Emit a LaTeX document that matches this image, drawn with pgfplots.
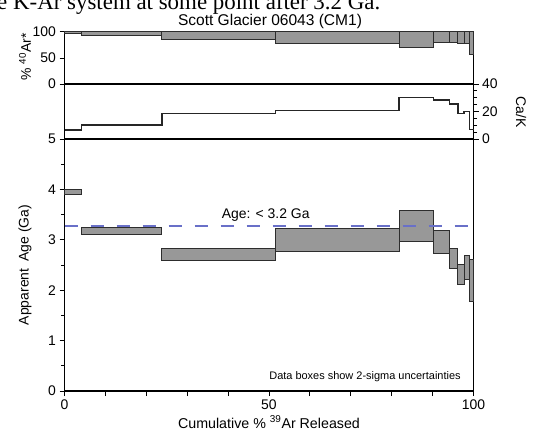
\documentclass[border=0pt]{standalone}
\usepackage{fontspec}
\setmainfont{Liberation Sans}
\newfontfamily\seriffont{Liberation Serif}
\usepackage{pgfplots}
\pgfplotsset{compat=1.18}
\definecolor{boxgray}{RGB}{152,152,152}
\definecolor{boxedge}{RGB}{45,45,45}
\definecolor{agecol}{RGB}{105,112,200}
\begin{document}
\begin{tikzpicture}
\useasboundingbox (0bp,0bp) rectangle (535bp,-434bp);
\clip (0bp,0bp) rectangle (535bp,-434bp);
\pgfplotsset{
  every axis/.append style={
    scale only axis, width=409bp, xmin=0, xmax=100,
    axis line style={line width=1.2bp, black},
    every tick/.style={line width=1bp, black},
    tick align=outside, major tick length=5bp, minor tick length=3.5bp,
    tick label style={font=\fontsize{14}{16}\selectfont},
    /pgf/number format/assume math mode=true,
    clip=false,
  },
  box/.style={fill=boxgray, draw=boxedge, line width=1bp},
}
% ---------- top panel: % 40Ar* ----------
\begin{axis}[at={(64.5bp,-84bp)}, anchor=south west, height=52bp,
  ymin=0, ymax=100, ytick={0,50,100}, ytick pos=left, xtick=\empty]
\addplot[box] coordinates {(0,97) (4.2,97) (4.2,100) (0,100)} --cycle;
\addplot[box] coordinates {(4.2,92.5) (23.8,92.5) (23.8,100) (4.2,100)} --cycle;
\addplot[box] coordinates {(23.8,86.5) (51.6,86.5) (51.6,100) (23.8,100)} --cycle;
\addplot[box] coordinates {(51.6,78.5) (81.8,78.5) (81.8,100) (51.6,100)} --cycle;
\addplot[box] coordinates {(81.8,70) (90.2,70) (90.2,100) (81.8,100)} --cycle;
\addplot[box] coordinates {(90.2,80.5) (94.2,80.5) (94.2,100) (90.2,100)} --cycle;
\addplot[box] coordinates {(94.2,80) (96.2,80) (96.2,100) (94.2,100)} --cycle;
\addplot[box] coordinates {(96.2,78.5) (97.7,78.5) (97.7,100) (96.2,100)} --cycle;
\addplot[box] coordinates {(97.7,77) (99.0,77) (99.0,100) (97.7,100)} --cycle;
\addplot[box] coordinates {(99.0,56) (100,56) (100,100) (99.0,100)} --cycle;
\end{axis}
% ---------- middle panel: Ca/K ----------
\begin{axis}[at={(64.5bp,-139bp)}, anchor=south west, height=55bp,
  ymin=0, ymax=40, ytick={0,20,40}, minor y tick num=3,
  ytick pos=right, yticklabel pos=right, xtick=\empty]
\addplot[const plot, black!85, line width=1.4bp] coordinates {
  (0,6.5) (4.2,10.3) (23.8,18.4) (51.6,20.6) (81.8,30.2) (90.2,28.5)
  (94.2,25.6) (96.2,18.4) (97.7,19.9) (99.0,6.7) (100,6.7)};
\end{axis}
% ---------- bottom panel: apparent age ----------
\begin{axis}[at={(64.5bp,-391bp)}, anchor=south west, height=252bp,
  ymin=0, ymax=5, ytick={0,1,2,3,4,5}, minor y tick num=1, ytick pos=left,
  xtick={0,10,...,100}, xticklabels={0,,,,,50,,,,,100}, xtick pos=bottom]
\addplot[box] coordinates {(0,3.90) (4.2,3.90) (4.2,4.00) (0,4.00)} --cycle;
\addplot[box] coordinates {(4.2,3.115) (23.8,3.115) (23.8,3.25) (4.2,3.25)} --cycle;
\addplot[box] coordinates {(23.8,2.58) (51.6,2.58) (51.6,2.82) (23.8,2.82)} --cycle;
\addplot[box] coordinates {(51.6,2.77) (81.8,2.77) (81.8,3.22) (51.6,3.22)} --cycle;
\addplot[box] coordinates {(81.8,2.96) (90.2,2.96) (90.2,3.58) (81.8,3.58)} --cycle;
\addplot[box] coordinates {(90.2,2.73) (94.2,2.73) (94.2,3.19) (90.2,3.19)} --cycle;
\addplot[box] coordinates {(94.2,2.43) (96.2,2.43) (96.2,2.82) (94.2,2.82)} --cycle;
\addplot[box] coordinates {(96.2,2.12) (97.7,2.12) (97.7,2.51) (96.2,2.51)} --cycle;
\addplot[box] coordinates {(97.7,2.22) (99.0,2.22) (99.0,2.68) (97.7,2.68)} --cycle;
\addplot[box] coordinates {(99.0,1.77) (100,1.77) (100,2.61) (99.0,2.61)} --cycle;
\addplot[agecol, line width=1.6bp, dash pattern=on 13bp off 13bp] coordinates {(0,3.27) (100,3.27)};
\node[font=\fontsize{14}{16}\selectfont] at (axis cs:49.2,3.49) {Age: < 3.2 Ga};
\node[font=\fontsize{11}{13}\selectfont, anchor=east, inner sep=0pt] at (axis cs:96.9,0.28) {Data boxes show 2-sigma uncertainties};
\end{axis}
% ---------- labels ----------
\node[font=\seriffont\fontsize{23}{26}\selectfont, anchor=base west, inner sep=0pt] at (-3bp,-9.5bp) {e K-Ar system at some point after 3.2 Ga.};
\node[font=\fontsize{15.6}{18}\selectfont, anchor=base, inner sep=0pt] at (270bp,-25bp) {Scott Glacier 06043 (CM1)};
\node[font=\fontsize{14}{16}\selectfont, rotate=90] at (25bp,-57bp) {\% \textsuperscript{40}Ar*};
\node[font=\fontsize{14}{16}\selectfont, rotate=90] at (25bp,-265bp) {Apparent\hspace{0.5em}Age (Ga)};
\node[font=\fontsize{14}{16}\selectfont, rotate=-90] at (521bp,-112bp) {Ca/K};
\node[font=\fontsize{14.3}{16}\selectfont] at (269bp,-422bp) {Cumulative \% \textsuperscript{39}Ar Released};
\end{tikzpicture}
\end{document}
